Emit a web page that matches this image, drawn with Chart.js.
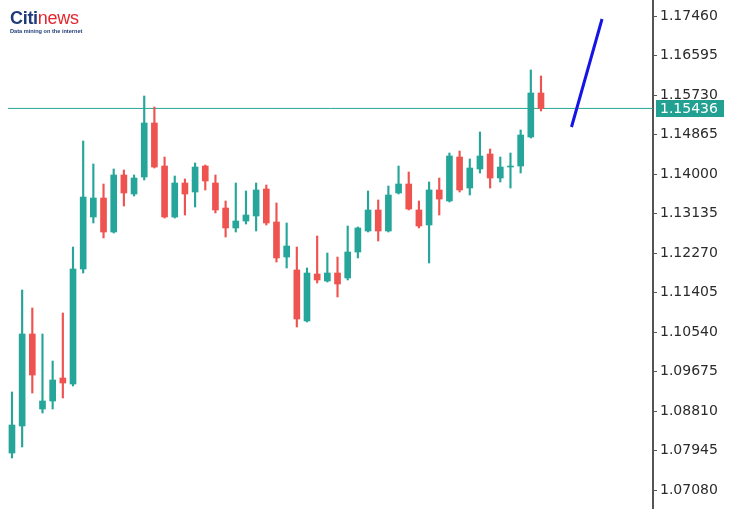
<!DOCTYPE html>
<html>
<head>
<meta charset="utf-8">
<script src="https://cdn.jsdelivr.net/npm/chart.js@4/dist/chart.umd.min.js"></script>
<style>
  html, body { margin: 0; padding: 0; background: #ffffff; }
  #wrap { position: relative; width: 738px; height: 516px; }
  #logo { position: absolute; left: 10px; top: 9px; font-family: "Liberation Sans", Arial, sans-serif; line-height: 1; }
  #logo .brand { font-size: 18px; font-weight: bold; letter-spacing: -0.3px; }
  #logo .citi { color: #1f3c78; }
  #logo .news { color: #e3262e; font-weight: normal; font-size: 18px; }
  #logo .sub { font-size: 5.6px; font-weight: bold; color: #1f3c78; margin-top: 2px; white-space: nowrap; }
</style>
</head>
<body>
<div id="wrap">
  <canvas id="c" width="738" height="516"></canvas>
  <div id="logo"><div class="brand"><span class="citi">Citi</span><span class="news">news</span></div><div class="sub">Data mining on the internet</div></div>
</div>
<script>
// ---- data ----
const opens  = [1.07890,1.08482,1.10496,1.08854,1.09029,1.09533,1.09401,1.11920,1.13058,1.13474,
                1.12730,1.13978,1.13562,1.13934,1.15117,1.14175,1.13058,1.13803,1.13606,1.14175,
                1.13803,1.13255,1.12818,1.12971,1.13080,1.13672,1.12949,1.12182,1.11898,1.10781,
                1.11810,1.11657,1.11832,1.11723,1.12292,1.12752,1.13212,1.12752,1.13584,1.13781,
                1.13212,1.12883,1.13650,1.13409,1.14372,1.13693,1.14110,1.14438,1.13912,1.14153,
                1.14175,1.14810,1.15774];
const highs  = [1.09226,1.11460,1.11066,1.10496,1.09905,1.10956,1.12401,1.14723,1.14219,1.13781,
                1.14110,1.14088,1.13978,1.15708,1.15467,1.14372,1.13956,1.13891,1.14241,1.14197,
                1.13978,1.13409,1.13803,1.13628,1.13803,1.13759,1.13365,1.12927,1.12401,1.11942,
                1.12642,1.12270,1.12182,1.12861,1.12840,1.13628,1.13431,1.13737,1.14175,1.14044,
                1.13409,1.13825,1.13912,1.14460,1.14504,1.14329,1.14920,1.14548,1.14372,1.14460,
                1.14964,1.16278,1.16146];
const lows   = [1.07781,1.08022,1.09204,1.08766,1.08854,1.09095,1.09358,1.11832,1.12927,1.12599,
                1.12708,1.13299,1.13518,1.13869,1.14131,1.13036,1.13036,1.13102,1.13277,1.13650,
                1.13146,1.12620,1.12730,1.12905,1.12752,1.12883,1.12073,1.11942,1.10650,1.10759,
                1.11613,1.11635,1.11307,1.11679,1.12161,1.12730,1.12533,1.12730,1.13562,1.13212,
                1.12818,1.12051,1.13102,1.13387,1.13606,1.13540,1.14022,1.13693,1.13825,1.13693,
                1.14022,1.14788,1.15380];
const closes = [1.08503,1.10496,1.09598,1.09029,1.09489,1.09423,1.11920,1.13496,1.13474,1.12730,
                1.13978,1.13584,1.13912,1.15117,1.14153,1.13058,1.13803,1.13562,1.14153,1.13847,
                1.13212,1.12818,1.12971,1.13102,1.13650,1.12927,1.12161,1.12423,1.10825,1.11832,
                1.11679,1.11832,1.11591,1.12292,1.12818,1.13212,1.12752,1.13540,1.13781,1.13233,
                1.12861,1.13650,1.13452,1.14394,1.13650,1.14131,1.14394,1.13912,1.14153,1.14175,
                1.14854,1.15774,1.15436];
const tickLabels = ["1.07080","1.07945","1.08810","1.09675","1.10540","1.11405","1.12270",
                    "1.13135","1.14000","1.14865","1.15730","1.16595","1.17460"];
const currentPrice = 1.15436;
const trendX = [55, 58];
const trendY = [1.15029, 1.17394];
const yMin = 1.066859, yMax = 1.178104;
const xMin = -0.39, xMax = 63.01;

const UP = '#26a69a', DOWN = '#ef5350';
const idx = opens.map((_, i) => i);
const colors = idx.map(i => closes[i] >= opens[i] ? UP : DOWN);
const wickData = idx.map(i => ({x: i, y: [lows[i], highs[i]]}));
const bodyData = idx.map(i => ({x: i, y: [opens[i], closes[i]]}));
const tickValues = tickLabels.map(Number);

const priceBox = {
  id: 'priceBox',
  afterDraw(chart) {
    const y = chart.scales.y;
    const ctx = chart.ctx;
    const py = y.getPixelForValue(currentPrice);
    ctx.save();
    ctx.fillStyle = '#22a192';
    ctx.fillRect(656, Math.round(py) - 8, 68, 17);
    ctx.fillStyle = '#ffffff';
    ctx.font = '14px "DejaVu Sans"';
    ctx.textBaseline = 'middle';
    ctx.textAlign = 'left';
    ctx.fillText(currentPrice.toFixed(5), 660, py + 1);
    ctx.restore();
  }
};

new Chart(document.getElementById('c'), {
  type: 'bar',
  data: {
    datasets: [
      { type: 'line', data: [{x: xMin, y: currentPrice}, {x: xMax, y: currentPrice}],
        borderColor: '#26a69a', borderWidth: 1, pointRadius: 0, order: 3 },
      { data: wickData, backgroundColor: colors, barThickness: 1.5, grouped: false,
        borderWidth: 0, order: 2 },
      { data: bodyData, backgroundColor: colors, barThickness: 6, grouped: false,
        borderWidth: 0, order: 1 },
      { type: 'line', data: trendX.map((x, i) => ({x, y: trendY[i]})),
        borderColor: '#1414e6', borderWidth: 3, pointRadius: 0, order: 0 }
    ]
  },
  options: {
    responsive: false,
    animation: false,
    devicePixelRatio: 1,
    layout: { padding: { left: 8, right: 0, top: 0, bottom: 8 } },
    plugins: { legend: { display: false }, tooltip: { enabled: false } },
    scales: {
      x: { type: 'linear', display: false, min: xMin, max: xMax, offset: false },
      y: {
        position: 'right', min: yMin, max: yMax,
        afterBuildTicks(s) { s.ticks = tickValues.map(v => ({value: v})); },
        afterFit(s) { s.width = 85; s.paddingTop = 0; s.paddingBottom = 0; },
        grid: { drawOnChartArea: false, drawTicks: true, tickLength: 4, color: '#555555', lineWidth: 1 },
        border: { display: true, color: '#555555', width: 2 },
        ticks: {
          padding: 3, color: '#2b2b2b', font: { family: 'DejaVu Sans', size: 14 },
          callback: (v) => Number(v).toFixed(5)
        }
      }
    }
  },
  plugins: [priceBox]
});
</script>
</body>
</html>
